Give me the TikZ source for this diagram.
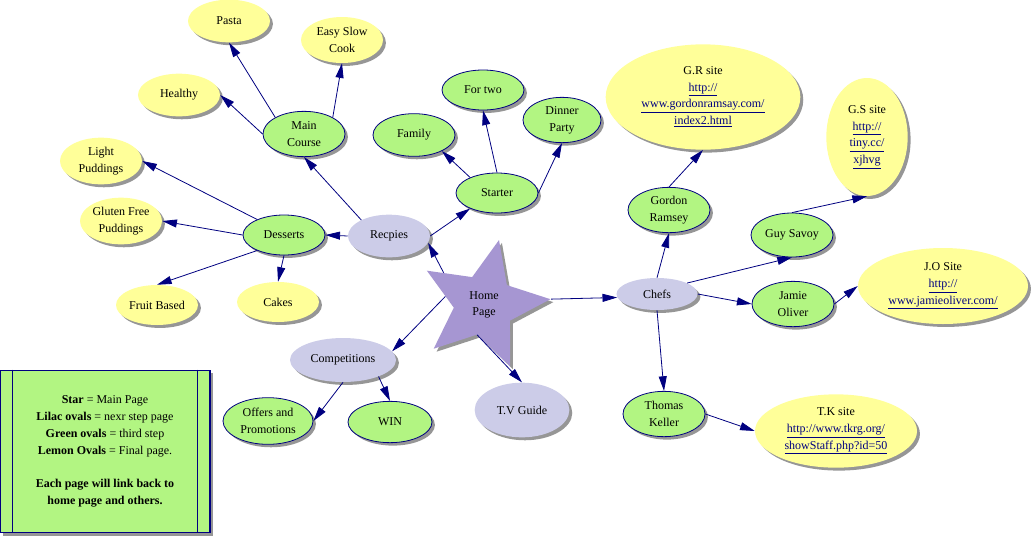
\documentclass[tikz,border=0pt]{standalone}
\usepackage{fontspec}
\setmainfont{Liberation Serif}
\usepackage{tikz}
\usetikzlibrary{shapes, arrows.meta, calc, shadows}
\definecolor{marine}{RGB}{0,0,128}
\definecolor{citron}{RGB}{255,255,153}
\definecolor{vertclair}{RGB}{178,245,130}
\definecolor{lilas}{RGB}{204,204,232}
\definecolor{mauve}{RGB}{166,150,210}
\definecolor{ombre}{RGB}{150,150,150}
\newcommand{\lien}[1]{\textcolor{marine}{\underline{#1}}}

\begin{document}
\begin{tikzpicture}[x=0.75pt, y=-0.75pt,
    ombree/.style={drop shadow={shadow xshift=2.2pt, shadow yshift=-2.2pt, fill=ombre, opacity=1}},
    ovale/.style={ellipse, ombree, inner sep=0pt, minimum width=61.5pt, minimum height=32pt,
      align=center, font=\fontsize{9}{12.5}\selectfont},
    jaune/.style={ovale, fill=citron},
    vert/.style={ovale, fill=vertclair, draw=marine, line width=0.6pt},
    ovlilas/.style={ovale, fill=lilas},
    etoile/.style={star, star points=5, star point ratio=2.2, minimum size=100pt, inner sep=0pt,
      shape border rotate=-13, fill=mauve, ombree, align=center, font=\fontsize{9}{12.5}\selectfont},
    legende/.style={rectangle, draw=marine, fill=vertclair, line width=0.8pt, minimum width=157.5pt,
      minimum height=122pt, align=center, font=\fontsize{9}{12.75}\selectfont, ombree},
    fleche/.style={-{Triangle[length=11pt, width=6pt]}, line width=0.6pt, color=marine}
  ]
    \useasboundingbox (0,0) rectangle (1032,536);

    \node[etoile] (home) at (484,305) {Home\\Page};
    \node[ovlilas] (rec) at (389,236) {Recpies};
    \node[ovlilas, minimum width=60.75pt, minimum height=24pt] (chefs) at (657,294) {Chefs};
    \node[ovlilas, minimum width=79.5pt, minimum height=33pt] (comp) at (343,360) {Competitions};
    \node[ovlilas, minimum width=71pt, minimum height=41pt] (tv) at (522,410) {T.V Guide};

    \node[vert, minimum height=34pt] (main) at (304,134) {Main\\Course};
    \node[vert, minimum height=30pt] (dess) at (284,235) {Desserts};
    \node[vert, minimum height=30pt] (start) at (497,193) {Starter};
    \node[vert] (fam) at (414,135) {Family};
    \node[vert, minimum height=30pt] (fortwo) at (483,90) {For two};
    \node[vert, minimum width=58.5pt, minimum height=34pt] (dinner) at (562,120) {Dinner\\Party};
    \node[vert, minimum height=34pt] (gordon) at (669,210) {Gordon\\Ramsey};
    \node[vert, minimum height=33pt] (guy) at (792,235) {Guy Savoy};
    \node[vert, minimum height=34pt] (jamie) at (793,304) {Jamie\\Oliver};
    \node[vert, minimum height=34pt] (thomas) at (664,414) {Thomas\\Keller};
    \node[vert, minimum width=67.5pt, minimum height=35pt] (offers) at (268,421) {Offers and\\Promotions};
    \node[vert, minimum width=63pt, minimum height=31pt] (win) at (390,422) {WIN};

    \node[jaune] (pasta) at (229,21) {Pasta};
    \node[jaune, minimum height=34.5pt] (easy) at (342,40) {Easy Slow\\Cook};
    \node[jaune] (healthy) at (179,95) {Healthy};
    \node[jaune, minimum height=35pt] (light) at (101,161) {Light\\Puddings};
    \node[jaune, minimum height=35pt] (gluten) at (121,221) {Gluten Free\\Puddings};
    \node[jaune, minimum height=30pt] (fruit) at (157,305) {Fruit Based};
    \node[jaune, minimum height=30pt] (cakes) at (278,302) {Cakes};
    \node[jaune, minimum width=146pt, minimum height=79pt] (gr) at (703,97)
      {G.R site\\\lien{http://}\\\lien{www.gordonramsay.com/}\\\lien{index2.html}};
    \node[jaune, minimum width=61pt, minimum height=88.5pt] (gs) at (867,137)
      {G.S site\\\lien{http://}\\\lien{tiny.cc/}\\\lien{xjhvg}};
    \node[jaune, minimum width=127.5pt, minimum height=57pt] (jo) at (943,286)
      {J.O Site\\\lien{http://}\\\lien{www.jamieoliver.com/}};
    \node[jaune, minimum width=121.5pt, minimum height=55pt] (tk) at (836,431)
      {T.K site\\\lien{http://www.tkrg.org/}\\\lien{showStaff.php?id=50}};

    \node[legende] (leg) at (105,451.5) {\textbf{Star} = Main Page\\ \textbf{Lilac ovals} = nexr step page\\
      \textbf{Green ovals} = third step\\ \textbf{Lemon Ovals} = Final page.\\[12pt]
      \textbf{Each page will link back to}\\ \textbf{home page and others.}};
    \draw[marine, line width=0.8pt] ($(leg.north west)+(13,0)$) -- ($(leg.south west)+(13,0)$);
    \draw[marine, line width=0.8pt] ($(leg.north east)+(-13,0)$) -- ($(leg.south east)+(-13,0)$);

    \draw[fleche] ($(home.inner point 1)!0.62!(home.outer point 2)$) -- (rec.-10);
    \draw[fleche] (rec.west) -- (dess.east);
    \draw[fleche] (rec.150) -- (main.south);
    \draw[fleche] (rec.east) -- (start.210);
    \draw[fleche] (main.150) -- (pasta.south);
    \draw[fleche] (main.west) -- (healthy.east);
    \draw[fleche] (main.30) -- (easy.south);
    \draw[fleche] (dess.150) -- (light.east);
    \draw[fleche] (dess.west) -- (gluten.east);
    \draw[fleche] (dess.210) -- (fruit.north);
    \draw[fleche] (dess.south) -- (cakes.north);
    \draw[fleche] (start.150) -- (fam.-30);
    \draw[fleche] (start.north) -- (fortwo.south);
    \draw[fleche] (start.east) -- (dinner.south);
    \draw[fleche] (home.outer point 5) -- (chefs.185);
    \draw[fleche] (chefs.north) -- (gordon.south);
    \draw[fleche] (chefs.20) -- (guy.south);
    \draw[fleche] (chefs.east) -- (jamie.west);
    \draw[fleche] (chefs.south) -- (thomas.north);
    \draw[fleche] (gordon.north) -- (gr.south);
    \draw[fleche] (guy.north) -- (gs.south);
    \draw[fleche] (jamie.east) -- (jo.west);
    \draw[fleche] (thomas.east) -- (tk.west);
    \draw[fleche] ($(home.outer point 2)!0.7!(home.inner point 2)$) -- (comp.10);
    \draw[fleche] (home.inner point 3) -- (tv.north);
    \draw[fleche] (comp.south) -- (offers.east);
    \draw[fleche] (comp.-25) -- (win.north);
  \end{tikzpicture}
\end{document}
